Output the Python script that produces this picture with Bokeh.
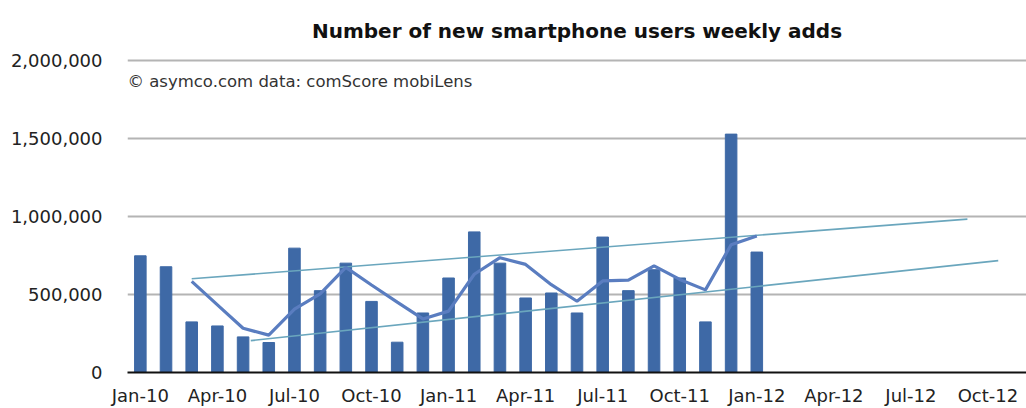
from bokeh.plotting import figure
from bokeh.models import Range1d, FixedTicker, NumeralTickFormatter, Label
from bokeh.embed import file_html
from bokeh.resources import INLINE

# ---- data ----
months = ["Jan-10", "Feb-10", "Mar-10", "Apr-10", "May-10", "Jun-10", "Jul-10", "Aug-10",
          "Sep-10", "Oct-10", "Nov-10", "Dec-10", "Jan-11", "Feb-11", "Mar-11", "Apr-11",
          "May-11", "Jun-11", "Jul-11", "Aug-11", "Sep-11", "Oct-11", "Nov-11", "Dec-11",
          "Jan-12", "Feb-12", "Mar-12", "Apr-12", "May-12", "Jun-12", "Jul-12", "Aug-12",
          "Sep-12", "Oct-12", "Nov-12"]
new_users = [747000, 677000, 324000, 298000, 228000, 192000, 796000, 524000, 700000,
             455000, 194000, 381000, 605000, 900000, 700000, 477000, 509000, 381000,
             867000, 524000, 658000, 605000, 324000, 1526000, 771000]
# 3-month moving average line (starts at Mar-10)
avg_line = [583000, 433000, 283000, 239000, 405000, 504000, 673000, 560000, 450000,
            343000, 393000, 629000, 735000, 692000, 562000, 456000, 586000, 591000,
            683000, 596000, 529000, 818000, 874000]
# hand-drawn channel lines (month index, value)
upper_month = [2.0, 32.2]
upper_value = [600000, 982000]
lower_month = [4.3, 33.4]
lower_value = [204000, 716000]
y_ticks = [0, 500000, 1000000, 1500000, 2000000]
x_tick_labels = months[::3]

title_text = "Number of new smartphone users weekly adds"
source_text = "\u00a9 asymco.com data: comScore mobiLens"

FONT = "DejaVu Sans"
BAR = "#3e69a6"
AVG = "#5a7dc0"
TREND = "#6aa6bd"

x_idx = list(range(len(new_users)))
avg_idx = list(range(2, 2 + len(avg_line)))

p = figure(width=1026, height=408, output_backend="svg", toolbar_location=None,
           x_range=Range1d(-0.5, len(months) - 0.5), y_range=Range1d(0, 2010000),
           min_border_left=127, min_border_right=0, min_border_top=58, min_border_bottom=35,
           title=title_text)
p.outline_line_color = None
p.background_fill_color = "white"
p.border_fill_color = "white"

p.title.align = "center"
p.title.text_font = FONT
p.title.text_font_style = "bold"
p.title.text_font_size = "20px"
p.title.text_color = "#111111"
p.title.standoff = 32

p.vbar(x=x_idx, top=new_users, width=0.45, color=BAR)
p.line(x=upper_month, y=upper_value, line_color=TREND, line_width=1.6)
p.line(x=lower_month, y=lower_value, line_color=TREND, line_width=1.6)
p.line(x=avg_idx, y=avg_line, line_color=AVG, line_width=3.2)

# x axis
p.xaxis.ticker = FixedTicker(ticks=list(range(0, len(months), 3)))
p.xaxis.major_label_overrides = {i * 3: lab for i, lab in enumerate(x_tick_labels)}
p.xaxis.axis_line_color = "#111111"
p.xaxis.axis_line_width = 2
p.xaxis.major_tick_line_color = None
p.xaxis.minor_tick_line_color = None
p.xaxis.major_label_standoff = 6
p.xaxis.major_label_text_font = FONT
p.xaxis.major_label_text_font_size = "18px"
p.xaxis.major_label_text_color = "#222222"
p.xgrid.grid_line_color = None

# y axis
p.yaxis.ticker = FixedTicker(ticks=y_ticks)
p.yaxis.formatter = NumeralTickFormatter(format="0,0")
p.yaxis.axis_line_color = None
p.yaxis.major_tick_line_color = None
p.yaxis.minor_tick_line_color = None
p.yaxis.major_tick_out = 0
p.yaxis.major_label_standoff = 25
p.yaxis.major_label_text_font = FONT
p.yaxis.major_label_text_font_size = "18px"
p.yaxis.major_label_text_color = "#222222"
p.ygrid.ticker = FixedTicker(ticks=y_ticks[1:])
p.ygrid.grid_line_color = "#b4b4b4"
p.ygrid.grid_line_width = 2

p.add_layout(Label(x=-0.5, y=1860000, text=source_text, text_align="left",
                   text_baseline="middle", text_font=FONT, text_font_size="16.5px",
                   text_color="#333333"))

open("out.html", "w").write(file_html(p, INLINE))
